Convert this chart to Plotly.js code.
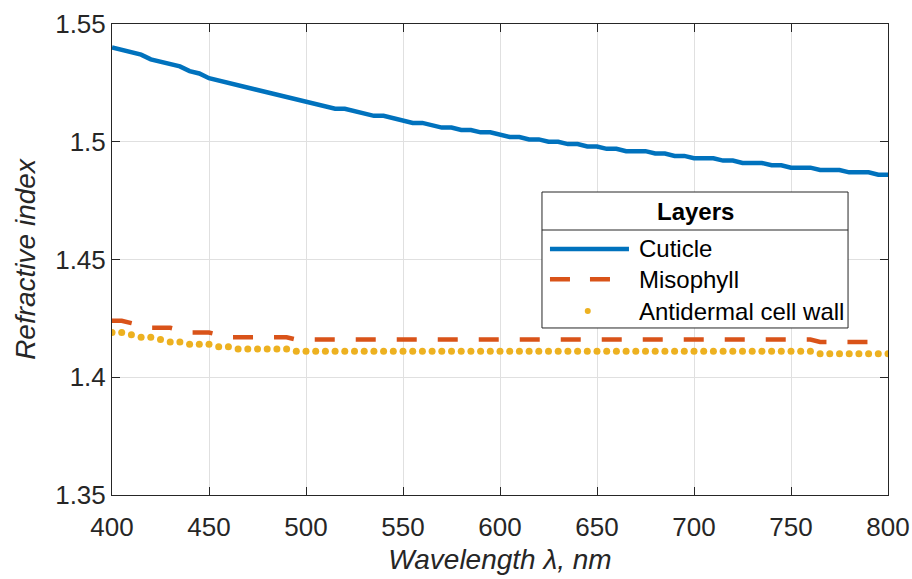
<!DOCTYPE html>
<html>
<head>
<meta charset="utf-8">
<script src="https://cdn.plot.ly/plotly-3.0.1.min.js"></script>
<style>html,body{margin:0;padding:0;background:#fff;}#chart{width:912px;height:579px;}</style>
</head>
<body>
<div id="chart"></div>
<script>
// Wavelength grid (nm), 5 nm steps from 400 to 800
var wavelength = [400,405,410,415,420,425,430,435,440,445,450,455,460,465,470,475,480,485,490,495,
  500,505,510,515,520,525,530,535,540,545,550,555,560,565,570,575,580,585,590,595,
  600,605,610,615,620,625,630,635,640,645,650,655,660,665,670,675,680,685,690,695,
  700,705,710,715,720,725,730,735,740,745,750,755,760,765,770,775,780,785,790,795,800];

var cuticle = [1.540,1.539,1.538,1.537,1.535,1.534,1.533,1.532,1.530,1.529,1.527,1.526,1.525,1.524,1.523,1.522,1.521,1.520,1.519,1.518,
  1.517,1.516,1.515,1.514,1.514,1.513,1.512,1.511,1.511,1.510,1.509,1.508,1.508,1.507,1.506,1.506,1.505,1.505,1.504,1.504,
  1.503,1.502,1.502,1.501,1.501,1.500,1.500,1.499,1.499,1.498,1.498,1.497,1.497,1.496,1.496,1.496,1.495,1.495,1.494,1.494,
  1.493,1.493,1.493,1.492,1.492,1.491,1.491,1.491,1.490,1.490,1.489,1.489,1.489,1.488,1.488,1.488,1.487,1.487,1.487,1.486,1.486];

var misophyll = [1.424,1.424,1.423,1.422,1.421,1.421,1.421,1.420,1.419,1.419,1.419,1.418,1.417,1.417,1.417,1.417,1.417,1.417,1.417,1.416,
  1.416,1.416,1.416,1.416,1.416,1.416,1.416,1.416,1.416,1.416,1.416,1.416,1.416,1.416,1.416,1.416,1.416,1.416,1.416,1.416,
  1.416,1.416,1.416,1.416,1.416,1.416,1.416,1.416,1.416,1.416,1.416,1.416,1.416,1.416,1.416,1.416,1.416,1.416,1.416,1.416,
  1.416,1.416,1.416,1.416,1.416,1.416,1.416,1.416,1.416,1.416,1.416,1.416,1.416,1.415,1.415,1.415,1.415,1.415,1.415,1.415,1.415];

var antidermal = [1.419,1.419,1.418,1.417,1.417,1.416,1.415,1.415,1.414,1.414,1.414,1.413,1.413,1.412,1.412,1.412,1.412,1.412,1.412,1.411,
  1.411,1.411,1.411,1.411,1.411,1.411,1.411,1.411,1.411,1.411,1.411,1.411,1.411,1.411,1.411,1.411,1.411,1.411,1.411,1.411,
  1.411,1.411,1.411,1.411,1.411,1.411,1.411,1.411,1.411,1.411,1.411,1.411,1.411,1.411,1.411,1.411,1.411,1.411,1.411,1.411,
  1.411,1.411,1.411,1.411,1.411,1.411,1.411,1.411,1.411,1.411,1.411,1.411,1.411,1.410,1.410,1.410,1.410,1.410,1.410,1.410,1.410];

var seriesNames = ['Cuticle', 'Misophyll', 'Antidermal cell wall'];
var legendTitle = 'Layers';
var xTickVals = [400,450,500,550,600,650,700,750,800];
var yTickVals = [1.35,1.4,1.45,1.5,1.55];
var yTickText = ['1.35','1.4','1.45','1.5','1.55'];

var colors = ['#0072BD', '#D95319', '#EDB120'];
var FONT = 'Liberation Sans, Arial, Helvetica, sans-serif';
var axisColor = '#262626';

var traces = [
  {x: wavelength, y: cuticle, name: seriesNames[0], type: 'scatter', mode: 'lines',
   line: {color: colors[0], width: 4.5}},
  {x: wavelength, y: misophyll, name: seriesNames[1], type: 'scatter', mode: 'lines',
   line: {color: colors[1], width: 4.5, dash: '20px,21px'}},
  {x: wavelength, y: antidermal, name: seriesNames[2], type: 'scatter', mode: 'markers',
   marker: {color: colors[2], size: 7}}
];

// legend geometry in paper coords
var L = {x0: 0.5541, x1: 0.9485, y0: 0.3546, y1: 0.6433, sep: 0.5626};
var rows = [0.5225, 0.4580, 0.3905];
var sx0 = 0.5644, sx1 = 0.6662, tx = 0.6765, dotx = 0.6131;

var shapes = [
  {type: 'rect', xref: 'paper', yref: 'paper', x0: L.x0, x1: L.x1, y0: L.y0, y1: L.y1,
   line: {color: axisColor, width: 1}, fillcolor: '#ffffff', layer: 'above'},
  {type: 'line', xref: 'paper', yref: 'paper', x0: L.x0, x1: L.x1, y0: L.sep, y1: L.sep,
   line: {color: axisColor, width: 1}, layer: 'above'},
  {type: 'line', xref: 'paper', yref: 'paper', x0: sx0, x1: sx1, y0: rows[0], y1: rows[0],
   line: {color: colors[0], width: 4.5}, layer: 'above'},
  {type: 'line', xref: 'paper', yref: 'paper', x0: sx0, x1: sx1, y0: rows[1], y1: rows[1],
   line: {color: colors[1], width: 4.5, dash: '20px,20px'}, layer: 'above'},
  {type: 'circle', xref: 'paper', yref: 'paper', xsizemode: 'pixel', ysizemode: 'pixel',
   xanchor: dotx, yanchor: rows[2], x0: -3, x1: 3, y0: -3, y1: 3,
   line: {width: 0}, fillcolor: colors[2], layer: 'above'}
];

var annotations = [
  {xref: 'paper', yref: 'paper', x: (L.x0 + L.x1) / 2, y: (L.y1 + L.sep) / 2, text: '<b>' + legendTitle + '</b>',
   showarrow: false, xanchor: 'center', yanchor: 'middle', font: {family: FONT, size: 24, color: '#000'}}
];
for (var i = 0; i < 3; i++) {
  annotations.push({xref: 'paper', yref: 'paper', x: tx, y: rows[i], text: seriesNames[i],
    showarrow: false, xanchor: 'left', yanchor: 'middle', font: {family: FONT, size: 24, color: '#000'}});
}

var layout = {
  width: 912, height: 579,
  margin: {l: 112, r: 24, t: 24, b: 84},
  paper_bgcolor: '#ffffff', plot_bgcolor: '#ffffff',
  showlegend: false,
  font: {family: FONT, color: axisColor},
  xaxis: {
    range: [400, 800], tickvals: xTickVals, ticks: 'inside', ticklen: 8, tickcolor: axisColor,
    showline: true, linecolor: axisColor, linewidth: 1, mirror: 'ticks',
    showgrid: true, gridcolor: '#e0e0e0', gridwidth: 1, zeroline: false,
    tickfont: {family: FONT, size: 26, color: axisColor}, ticklabelstandoff: 9,
    title: {text: '<i>Wavelength λ, nm</i>', font: {family: FONT, size: 28, color: axisColor}, standoff: 8}
  },
  yaxis: {
    range: [1.35, 1.55], tickvals: yTickVals, ticktext: yTickText, ticks: 'inside', ticklen: 8, tickcolor: axisColor,
    showline: true, linecolor: axisColor, linewidth: 1, mirror: 'ticks',
    showgrid: true, gridcolor: '#e0e0e0', gridwidth: 1, zeroline: false,
    tickfont: {family: FONT, size: 26, color: axisColor},
    title: {text: '<i>Refractive index</i>', font: {family: FONT, size: 28, color: axisColor}, standoff: 11}
  },
  shapes: shapes,
  annotations: annotations
};

Plotly.newPlot('chart', traces, layout, {displayModeBar: false, staticPlot: true});
</script>
</body>
</html>
